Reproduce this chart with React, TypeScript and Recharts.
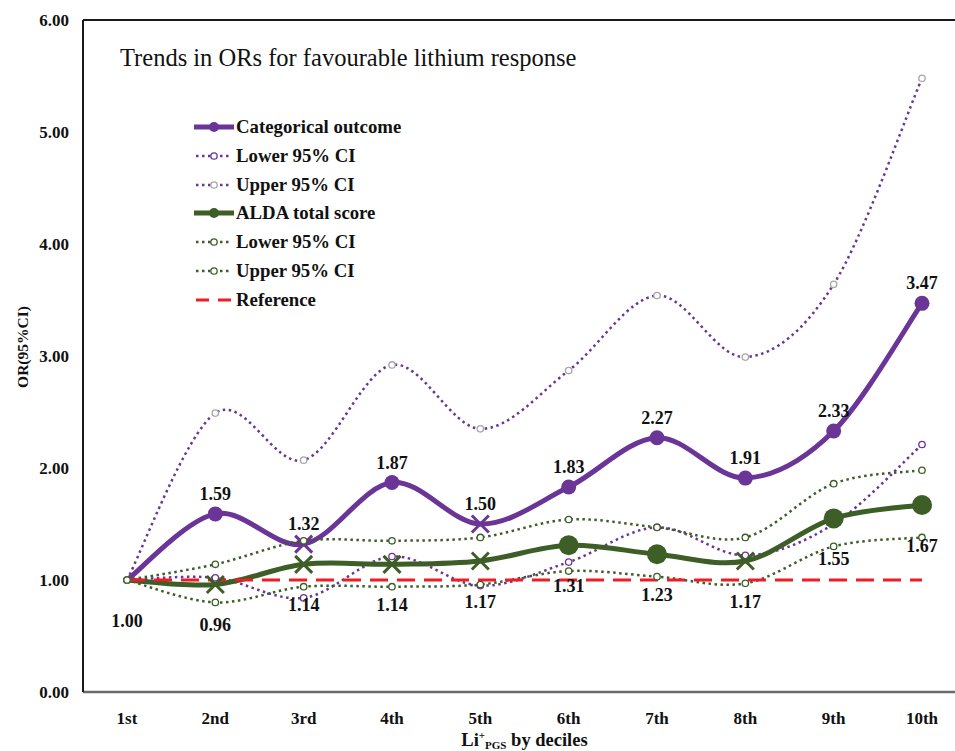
import React from 'react';
import { LineChart, Line, XAxis, YAxis, LabelList, Legend, ReferenceLine } from 'recharts';

// ---------- data ----------
const deciles = ['1st', '2nd', '3rd', '4th', '5th', '6th', '7th', '8th', '9th', '10th'];
const categorical = [1.0, 1.59, 1.32, 1.87, 1.5, 1.83, 2.27, 1.91, 2.33, 3.47];
const categoricalLower = [1.0, 1.02, 0.84, 1.21, 0.95, 1.16, 1.47, 1.22, 1.5, 2.21];
const categoricalUpper = [1.0, 2.49, 2.07, 2.92, 2.35, 2.87, 3.54, 2.99, 3.64, 5.48];
const alda = [1.0, 0.96, 1.14, 1.14, 1.17, 1.31, 1.23, 1.17, 1.55, 1.67];
const aldaLower = [1.0, 0.8, 0.94, 0.94, 0.96, 1.08, 1.03, 0.97, 1.3, 1.38];
const aldaUpper = [1.0, 1.14, 1.35, 1.35, 1.38, 1.54, 1.47, 1.38, 1.86, 1.98];
const reference = [1, 1, 1, 1, 1, 1, 1, 1, 1, 1];
const categoricalMarkers = ['point', 'circle', 'cross', 'circle', 'cross', 'circle', 'circle', 'circle', 'circle', 'circle'];
const aldaMarkers = ['point', 'cross', 'cross', 'cross', 'cross', 'circle', 'circle', 'cross', 'circle', 'circle'];
const yTicks = [0, 1, 2, 3, 4, 5, 6];

const chartData = deciles.map((d, i) => ({
  decile: d,
  cat: categorical[i],
  catLo: categoricalLower[i],
  catHi: categoricalUpper[i],
  alda: alda[i],
  aldaLo: aldaLower[i],
  aldaHi: aldaUpper[i],
  ref: reference[i],
}));

// ---------- styles ----------
const FONT = '"Liberation Serif", "Times New Roman", serif';
const PURPLE = '#6A3597';
const GREEN = '#3D5E27';
const RED = '#EE1D25';
const GREY = '#A6A6A6';

// Excel-like smoothing (uniform Catmull-Rom as cubic Bezier)
const smoothCurve: any = (context: any) => {
  let pts: number[][] = [];
  return {
    areaStart() {},
    areaEnd() {},
    lineStart() {
      pts = [];
    },
    point(x: number, y: number) {
      pts.push([+x, +y]);
    },
    lineEnd() {
      const n = pts.length;
      if (!n) return;
      context.moveTo(pts[0][0], pts[0][1]);
      for (let i = 0; i < n - 1; i++) {
        const p0 = pts[i - 1] || pts[i];
        const p1 = pts[i];
        const p2 = pts[i + 1];
        const p3 = pts[i + 2] || pts[i + 1];
        context.bezierCurveTo(
          p1[0] + (p2[0] - p0[0]) / 6,
          p1[1] + (p2[1] - p0[1]) / 6,
          p2[0] - (p3[0] - p1[0]) / 6,
          p2[1] - (p3[1] - p1[1]) / 6,
          p2[0],
          p2[1]
        );
      }
    },
  };
};

const makeMainDot = (markers: string[], color: string, r: number) => (props: any) => {
  const { cx, cy, index } = props;
  const key = `dot-${color}-${index}`;
  if (cx == null || cy == null) return <g key={key} />;
  const m = markers[index];
  if (m === 'cross') {
    const s = 8.5;
    return (
      <path
        key={key}
        d={`M${cx - s},${cy - s}L${cx + s},${cy + s}M${cx - s},${cy + s}L${cx + s},${cy - s}`}
        stroke={color}
        strokeWidth={3}
        fill="none"
      />
    );
  }
  if (m === 'circle') return <circle key={key} cx={cx} cy={cy} r={r} fill={color} />;
  return <circle key={key} cx={cx} cy={cy} r={3} fill={color} />;
};

const makeHollowDot = (color: string) => (props: any) => {
  const { cx, cy, index } = props;
  const key = `hdot-${color}-${index}`;
  if (cx == null || cy == null) return <g key={key} />;
  return <circle key={key} cx={cx} cy={cy} r={3.2} fill="#fff" stroke={color} strokeWidth={1.3} />;
};

const makeLabel = (dir: 'up' | 'down', dist: number, skipFirst: boolean) => (props: any) => {
  const vb = props.viewBox || {};
  const x = (props.x ?? vb.x) + ((vb.width || 0) / 2);
  const y = (props.y ?? vb.y) + ((vb.height || 0) / 2);
  const idx = props.index ?? deciles.indexOf(props.payload?.decile);
  if (skipFirst && idx === 0) return null;
  if (x == null || isNaN(x) || y == null || isNaN(y)) return null;
  return (
    <text
      x={x}
      y={dir === 'up' ? y - dist : y + dist}
      textAnchor="middle"
      dominantBaseline="central"
      fontFamily={FONT}
      fontWeight="bold"
      fontSize={18}
      fill="#111"
    >
      {Number(props.value).toFixed(2)}
    </text>
  );
};

const legendItems = [
  { name: 'Categorical outcome', color: PURPLE, kind: 'main' },
  { name: 'Lower 95% CI', color: PURPLE, kind: 'ci', marker: PURPLE },
  { name: 'Upper 95% CI', color: PURPLE, kind: 'ci', marker: GREY },
  { name: 'ALDA total score', color: GREEN, kind: 'main' },
  { name: 'Lower 95% CI', color: GREEN, kind: 'ci', marker: GREEN },
  { name: 'Upper 95% CI', color: GREEN, kind: 'ci', marker: GREEN },
  { name: 'Reference', color: RED, kind: 'ref' },
];

const LegendIcon = ({ item }: any) => (
  <svg width={42} height={16} style={{ display: 'block', flex: '0 0 auto' }}>
    {item.kind === 'main' && (
      <g>
        <line x1={1} y1={8} x2={41} y2={8} stroke={item.color} strokeWidth={5} />
        <circle cx={21} cy={8} r={5} fill={item.color} />
      </g>
    )}
    {item.kind === 'ci' && (
      <g>
        <line x1={3} y1={8} x2={39} y2={8} stroke={item.color} strokeWidth={2.5} strokeDasharray="2.5 3.5" />
        <circle cx={21} cy={8} r={3.2} fill="#fff" stroke={item.marker} strokeWidth={1.3} />
      </g>
    )}
    {item.kind === 'ref' && (
      <line x1={3} y1={8} x2={38} y2={8} stroke={item.color} strokeWidth={3} strokeDasharray="13 9" />
    )}
  </svg>
);

const renderLegend = () => (
  <div style={{ fontFamily: FONT }}>
    {legendItems.map((item, i) => (
      <div key={i} style={{ display: 'flex', alignItems: 'center', height: 28.8 }}>
        <LegendIcon item={item} />
        <span style={{ fontWeight: 'bold', fontSize: 18.8, color: '#111', marginLeft: 1, whiteSpace: 'nowrap' }}>
          {item.name}
        </span>
      </div>
    ))}
  </div>
);

const XLabel = (props: any) => {
  const vb = props.viewBox || { x: 83, y: 692, width: 883, height: 50 };
  const cx = vb.x + vb.width / 2;
  const y = vb.y + vb.height + 4;
  return (
    <text x={cx} y={y} textAnchor="middle" fontFamily={FONT} fontWeight="bold" fontSize={18.5} fill="#111">
      Li
      <tspan dy={-7} fontSize={11}>+</tspan>
      <tspan dy={10} fontSize={11}>PGS</tspan>
      <tspan dy={-3}> by deciles</tspan>
    </text>
  );
};

const YLabel = (props: any) => {
  const vb = props.viewBox || { x: 0, y: 20, width: 83, height: 672 };
  const x = vb.x + 22;
  const y = vb.y + vb.height / 2 - 9;
  return (
    <text
      x={x}
      y={y}
      transform={`rotate(-90, ${x}, ${y})`}
      textAnchor="middle"
      dominantBaseline="central"
      fontFamily={FONT}
      fontWeight="bold"
      fontSize={15.5}
      fill="#111"
    >
      OR(95%CI)
    </text>
  );
};

const tickStyle = { fontFamily: FONT, fontWeight: 'bold', fontSize: 17, fill: '#111' };

export default function App() {
  return (
    <div
      style={{
        position: 'absolute',
        left: 0,
        top: 0,
        width: 955,
        height: 751,
        overflow: 'hidden',
        background: '#fff',
      }}
    >
      <div
        style={{
          position: 'absolute',
          left: 120,
          top: 43,
          fontFamily: FONT,
          fontSize: 24.5,
          lineHeight: '30px',
          color: '#111',
          whiteSpace: 'nowrap',
          zIndex: 2,
        }}
      >
        Trends in ORs for favourable lithium response
      </div>
      <LineChart
        width={970}
        height={751}
        data={chartData}
        margin={{ top: 20, right: 4, bottom: 9, left: 0 }}
      >
        <XAxis
          dataKey="decile"
          type="category"
          height={50}
          padding={{ left: 44, right: 44 }}
          tickLine={false}
          tickMargin={14}
          axisLine={{ stroke: '#6b6b6b', strokeWidth: 2.5 }}
          tick={tickStyle}
          interval={0}
          label={{ content: XLabel }}
        />
        <YAxis
          type="number"
          domain={[0, 6]}
          ticks={yTicks}
          width={83}
          tickLine={false}
          tickMargin={8}
          axisLine={{ stroke: '#1a1a1a', strokeWidth: 2 }}
          tick={tickStyle}
          tickFormatter={(v: number) => v.toFixed(2)}
          label={{ content: YLabel }}
        />
        <ReferenceLine y={6} stroke="#1a1a1a" strokeWidth={2} />
        <Legend
          layout="vertical"
          align="center"
          verticalAlign="middle"
          content={renderLegend}
          wrapperStyle={{ left: 193, top: 112.6, width: 280, right: 'auto', bottom: 'auto' }}
        />

        <Line
          dataKey="cat"
          name="Categorical outcome"
          type={smoothCurve}
          stroke={PURPLE}
          strokeWidth={5}
          dot={makeMainDot(categoricalMarkers, PURPLE, 7.5)}
          activeDot={false}
          isAnimationActive={false}
        >
          <LabelList dataKey="cat" content={makeLabel('up', 20, true)} />
        </Line>
        <Line
          dataKey="catLo"
          name="Lower 95% CI"
          type={smoothCurve}
          stroke={PURPLE}
          strokeWidth={2.5}
          strokeDasharray="2.5 3.5"
          dot={makeHollowDot(PURPLE)}
          activeDot={false}
          isAnimationActive={false}
        />
        <Line
          dataKey="catHi"
          name="Upper 95% CI"
          type={smoothCurve}
          stroke={PURPLE}
          strokeWidth={2.5}
          strokeDasharray="2.5 3.5"
          dot={makeHollowDot(GREY)}
          activeDot={false}
          isAnimationActive={false}
        />
        <Line
          dataKey="alda"
          name="ALDA total score"
          type={smoothCurve}
          stroke={GREEN}
          strokeWidth={5}
          dot={makeMainDot(aldaMarkers, GREEN, 10)}
          activeDot={false}
          isAnimationActive={false}
        >
          <LabelList dataKey="alda" content={makeLabel('down', 41, false)} />
        </Line>
        <Line
          dataKey="aldaLo"
          name="Lower 95% CI"
          type={smoothCurve}
          stroke={GREEN}
          strokeWidth={2.5}
          strokeDasharray="2.5 3.5"
          dot={makeHollowDot(GREEN)}
          activeDot={false}
          isAnimationActive={false}
        />
        <Line
          dataKey="aldaHi"
          name="Upper 95% CI"
          type={smoothCurve}
          stroke={GREEN}
          strokeWidth={2.5}
          strokeDasharray="2.5 3.5"
          dot={makeHollowDot(GREEN)}
          activeDot={false}
          isAnimationActive={false}
        />
        <Line
          dataKey="ref"
          name="Reference"
          type="linear"
          stroke={RED}
          strokeWidth={3}
          strokeDasharray="18 9"
          dot={false}
          activeDot={false}
          isAnimationActive={false}
        />
      </LineChart>
    </div>
  );
}
